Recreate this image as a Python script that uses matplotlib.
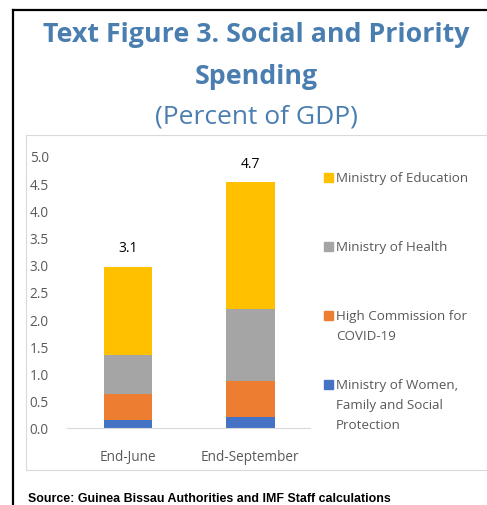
import matplotlib.pyplot as plt
from matplotlib.patches import Rectangle
from matplotlib.lines import Line2D
import numpy as np

# data
periods = ['End-June', 'End-September']
women = [0.15, 0.21]
covid = [0.47, 0.66]
health = [0.72, 1.31]
education = [1.62, 2.34]
totals = ['3.1', '4.7']
total_pos = [3.32, 4.87]
series_names = ['Ministry of Women,\nFamily and Social\nProtection',
                'High Commission for\nCOVID-19',
                'Ministry of Health',
                'Ministry of Education']
colors = ['#4472C4', '#ED7D31', '#A5A5A5', '#FFC000']

W, H = 487, 506
fig = plt.figure(figsize=(W / 100, H / 100), dpi=100)

def fx(px):
    return px / W

def fy(py):
    return 1 - py / H

# outer black frame (left + top)
fig.add_artist(Line2D([fx(13), fx(13)], [fy(11), 0], color='black', lw=1.6))
fig.add_artist(Line2D([fx(13), 1], [fy(11), fy(11)], color='black', lw=1.6))
# inner light-gray chart box
fig.add_artist(Rectangle((fx(26), fy(471)), 1.0, fy(136) - fy(471),
                         fill=False, edgecolor='#d9d9d9', lw=0.8))

title_col = '#4A7EB0'
cx = fx(256)
fig.text(cx, fy(35), 'Text Figure 3. Social and Priority', ha='center', va='center',
         color=title_col, fontsize=19.3, fontweight='bold', family='Open Sans')
fig.text(cx, fy(77), 'Spending', ha='center', va='center',
         color=title_col, fontsize=19.3, fontweight='bold', family='Open Sans')
fig.text(cx, fy(117), '(Percent of GDP)', ha='center', va='center',
         color=title_col, fontsize=19, family='Open Sans')

ax = fig.add_axes([fx(67), fy(429), fx(310) - fx(67), fy(157) - fy(429)])
x = np.arange(len(periods))
bottom = np.zeros(len(periods))
for vals, c in zip([women, covid, health, education], colors):
    ax.bar(x, vals, width=0.4, bottom=bottom, color=c, zorder=2)
    bottom += np.array(vals)

for xi, t, p in zip(x, totals, total_pos):
    ax.text(xi, p, t, ha='center', va='center', fontsize=10, color='black',
            family='Open Sans')

ax.set_xlim(-0.5, 1.49)
ax.set_ylim(0, 5)
ax.set_yticks(np.arange(0, 5.01, 0.5))
ax.set_yticklabels([f'{v:.1f}' for v in np.arange(0, 5.01, 0.5)])
ax.set_xticks(x)
ax.set_xticklabels(periods)
for s in ['top', 'right', 'left']:
    ax.spines[s].set_visible(False)
ax.spines['bottom'].set_color('#d9d9d9')
ax.tick_params(axis='both', length=0, colors='#595959', labelsize=9.8)
ax.tick_params(axis='y', pad=13)
ax.tick_params(axis='x', pad=15)
for lab in ax.get_xticklabels() + ax.get_yticklabels():
    lab.set_family('Open Sans')
ax.patch.set_alpha(0)

# legend, drawn by hand to keep the reference spacing
leg_items = [(series_names[3], colors[3], 178),
             (series_names[2], colors[2], 247),
             (series_names[1], colors[1], 316),
             (series_names[0], colors[0], 385)]
for name, c, py in leg_items:
    fig.add_artist(Rectangle((fx(324), fy(py + 5)), fx(9), fy(py - 4) - fy(py + 5),
                             color=c, transform=fig.transFigure))
    fig.text(fx(336), fy(py - 6), name, ha='left', va='top', fontsize=9.6,
             color='#595959', family='Open Sans', linespacing=1.72)

fig.text(fx(28), fy(499), 'Source: Guinea Bissau Authorities and IMF Staff calculations',
         ha='left', va='center', fontsize=8.9, fontweight='bold',
         family='Liberation Sans', color='black')

fig.savefig('out.png', dpi=100)
